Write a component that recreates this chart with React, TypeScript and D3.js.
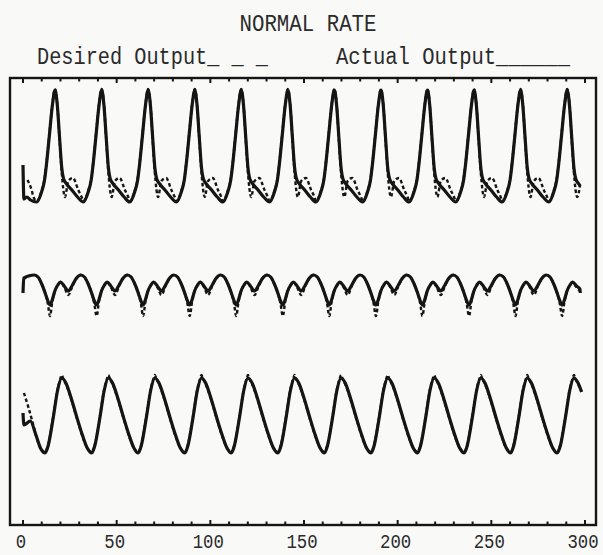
import React from "react";
import * as d3 from "d3";

const W = 603;
const H = 555;

const titleText = "NORMAL RATE";
const desiredLabel = "Desired Output_ _ _";
const actualLabel = "Actual Output______";
const xTicksMajor = [0, 50, 100, 150, 200, 250, 300];
const xTicksMinor = d3.range(0, 301, 10);

// Top trace (arbitrary units)
const topActual: [number, number][] = [
  [0,360],[0.5,326],[2,328],[4,325],
  [7.3,323],[9.9,333],[11.5,345],[12.5,360],[14.1,390],[15.7,420],[17.1,435],[18.3,420],[19.5,388],[20.7,357],[21.7,346],[23.3,341],[26.1,335],[29.1,328],
  [32.2,323],[34.8,333],[36.4,345],[37.4,360],[39.0,390],[40.6,420],[42.0,435],[43.2,420],[44.4,388],[45.6,357],[46.6,346],[48.2,341],[51.0,335],[54.0,328],
  [57.0,323],[59.6,333],[61.2,345],[62.2,360],[63.8,390],[65.4,420],[66.8,435],[68.0,420],[69.2,388],[70.4,357],[71.4,346],[73.0,341],[75.8,335],[78.8,328],
  [81.9,323],[84.5,333],[86.1,345],[87.1,360],[88.7,390],[90.3,420],[91.7,435],[92.9,420],[94.1,388],[95.3,357],[96.3,346],[97.9,341],[100.7,335],[103.7,328],
  [106.7,323],[109.3,333],[110.9,345],[111.9,360],[113.5,390],[115.1,420],[116.5,435],[117.7,420],[118.9,388],[120.1,357],[121.1,346],[122.7,341],[125.5,335],[128.5,328],
  [131.6,323],[134.2,333],[135.8,345],[136.8,360],[138.4,390],[140.0,420],[141.4,435],[142.6,420],[143.8,388],[145.0,357],[146.0,346],[147.6,341],[150.4,335],[153.4,328],
  [156.4,323],[159.0,333],[160.6,345],[161.6,360],[163.2,390],[164.8,420],[166.2,435],[167.4,420],[168.6,388],[169.8,357],[170.8,346],[172.4,341],[175.2,335],[178.2,328],
  [181.3,323],[183.9,333],[185.5,345],[186.5,360],[188.1,390],[189.7,420],[191.1,435],[192.3,420],[193.5,388],[194.7,357],[195.7,346],[197.3,341],[200.1,335],[203.1,328],
  [206.1,323],[208.7,333],[210.3,345],[211.3,360],[212.9,390],[214.5,420],[215.9,435],[217.1,420],[218.3,388],[219.5,357],[220.5,346],[222.1,341],[224.9,335],[227.9,328],
  [231.0,323],[233.6,333],[235.2,345],[236.2,360],[237.8,390],[239.4,420],[240.8,435],[242.0,420],[243.2,388],[244.4,357],[245.4,346],[247.0,341],[249.8,335],[252.8,328],
  [255.8,323],[258.4,333],[260.0,345],[261.0,360],[262.6,390],[264.2,420],[265.6,435],[266.8,420],[268.0,388],[269.2,357],[270.2,346],[271.8,341],[274.6,335],[277.6,328],
  [280.7,323],[283.3,333],[284.9,345],[285.9,360],[287.5,390],[289.1,420],[290.5,435],[291.7,420],[292.9,388],[294.1,357],[295.1,346],[296.7,341],[297.4,339],
];

const topDesired: [number, number][] = [
  [2.4,345],[4.6,335],[5.6,328],
  [7.3,324],[9.9,334],[11.5,346],[12.5,361],[14.1,391],[15.7,421],[17.1,436],[18.3,421],[19.5,386],[20.7,352],[21.5,336],[22.4,328],[24.2,344],[26.7,347],[29.5,335],[31.3,328],
  [32.2,324],[34.8,334],[36.4,346],[37.4,361],[39.0,391],[40.6,421],[42.0,436],[43.2,421],[44.4,386],[45.6,352],[46.4,336],[47.3,328],[49.1,344],[51.6,347],[54.4,335],[56.2,328],
  [57.0,324],[59.6,334],[61.2,346],[62.2,361],[63.8,391],[65.4,421],[66.8,436],[68.0,421],[69.2,386],[70.4,352],[71.2,336],[72.1,328],[73.9,344],[76.4,347],[79.2,335],[81.0,328],
  [81.9,324],[84.5,334],[86.1,346],[87.1,361],[88.7,391],[90.3,421],[91.7,436],[92.9,421],[94.1,386],[95.3,352],[96.1,336],[97.0,328],[98.8,344],[101.3,347],[104.1,335],[105.9,328],
  [106.7,324],[109.3,334],[110.9,346],[111.9,361],[113.5,391],[115.1,421],[116.5,436],[117.7,421],[118.9,386],[120.1,352],[120.9,336],[121.8,328],[123.6,344],[126.1,347],[128.9,335],[130.7,328],
  [131.6,324],[134.2,334],[135.8,346],[136.8,361],[138.4,391],[140.0,421],[141.4,436],[142.6,421],[143.8,386],[145.0,352],[145.8,336],[146.7,328],[148.5,344],[151.0,347],[153.8,335],[155.6,328],
  [156.4,324],[159.0,334],[160.6,346],[161.6,361],[163.2,391],[164.8,421],[166.2,436],[167.4,421],[168.6,386],[169.8,352],[170.6,336],[171.5,328],[173.3,344],[175.8,347],[178.6,335],[180.4,328],
  [181.3,324],[183.9,334],[185.5,346],[186.5,361],[188.1,391],[189.7,421],[191.1,436],[192.3,421],[193.5,386],[194.7,352],[195.5,336],[196.4,328],[198.2,344],[200.7,347],[203.5,335],[205.3,328],
  [206.1,324],[208.7,334],[210.3,346],[211.3,361],[212.9,391],[214.5,421],[215.9,436],[217.1,421],[218.3,386],[219.5,352],[220.3,336],[221.2,328],[223.0,344],[225.5,347],[228.3,335],[230.1,328],
  [231.0,324],[233.6,334],[235.2,346],[236.2,361],[237.8,391],[239.4,421],[240.8,436],[242.0,421],[243.2,386],[244.4,352],[245.2,336],[246.1,328],[247.9,344],[250.4,347],[253.2,335],[255.0,328],
  [255.8,324],[258.4,334],[260.0,346],[261.0,361],[262.6,391],[264.2,421],[265.6,436],[266.8,421],[268.0,386],[269.2,352],[270.0,336],[270.9,328],[272.7,344],[275.2,347],[278.0,335],[279.8,328],
  [280.7,324],[283.3,334],[284.9,346],[285.9,361],[287.5,391],[289.1,421],[290.5,436],[291.7,421],[292.9,386],[294.1,352],[294.9,336],[295.8,328],[297.4,340],
];

// Middle trace
const midActual: [number, number][] = [
  [0,232],[0.4,247],[3.0,249],[6.0,250],[8.0,248],[10.0,241],[12.0,231],[13.3,224],
  [14.4,220],[15.6,225],[17.0,234],[18.6,240],[20.0,243],[22.0,239],[24.2,234],[26.4,240],[28.4,246.5],[30.8,250],[32.8,248],[34.8,241],[36.8,231],[38.1,224],
  [39.3,220],[40.5,225],[41.9,234],[43.5,240],[44.9,243],[46.9,239],[49.1,234],[51.3,240],[53.3,246.5],[55.7,250],[57.7,248],[59.7,241],[61.7,231],[63.0,224],
  [64.1,220],[65.3,225],[66.7,234],[68.3,240],[69.7,243],[71.7,239],[73.9,234],[76.1,240],[78.1,246.5],[80.5,250],[82.5,248],[84.5,241],[86.5,231],[87.8,224],
  [89.0,220],[90.2,225],[91.6,234],[93.2,240],[94.6,243],[96.6,239],[98.8,234],[101.0,240],[103.0,246.5],[105.4,250],[107.4,248],[109.4,241],[111.4,231],[112.7,224],
  [113.8,220],[115.0,225],[116.4,234],[118.0,240],[119.4,243],[121.4,239],[123.6,234],[125.8,240],[127.8,246.5],[130.2,250],[132.2,248],[134.2,241],[136.2,231],[137.5,224],
  [138.7,220],[139.9,225],[141.3,234],[142.9,240],[144.3,243],[146.3,239],[148.5,234],[150.7,240],[152.7,246.5],[155.1,250],[157.1,248],[159.1,241],[161.1,231],[162.4,224],
  [163.5,220],[164.7,225],[166.1,234],[167.7,240],[169.1,243],[171.1,239],[173.3,234],[175.5,240],[177.5,246.5],[179.9,250],[181.9,248],[183.9,241],[185.9,231],[187.2,224],
  [188.4,220],[189.6,225],[191.0,234],[192.6,240],[194.0,243],[196.0,239],[198.2,234],[200.4,240],[202.4,246.5],[204.8,250],[206.8,248],[208.8,241],[210.8,231],[212.1,224],
  [213.2,220],[214.4,225],[215.8,234],[217.4,240],[218.8,243],[220.8,239],[223.0,234],[225.2,240],[227.2,246.5],[229.6,250],[231.6,248],[233.6,241],[235.6,231],[236.9,224],
  [238.1,220],[239.3,225],[240.7,234],[242.3,240],[243.7,243],[245.7,239],[247.9,234],[250.1,240],[252.1,246.5],[254.5,250],[256.5,248],[258.5,241],[260.5,231],[261.8,224],
  [262.9,220],[264.1,225],[265.5,234],[267.1,240],[268.5,243],[270.5,239],[272.7,234],[274.9,240],[276.9,246.5],[279.3,250],[281.3,248],[283.3,241],[285.3,231],[286.6,224],
  [287.8,220],[289.0,225],[290.4,234],[292.0,240],[293.4,243],[295.4,239],[297.3,236],[297.5,232],
];

const midDesired: [number, number][] = [
  [0.4,246],[3.0,249],[6.0,250],[8.0,248],[10.0,241],[12.0,231],[13.2,222],
  [14.4,209],[15.7,224],[17.0,234],[18.6,240],[20.0,243],[22.0,238],[24.2,230],[26.4,239],[28.4,246.5],[30.8,250],[32.8,248],[34.8,241],[36.8,231],[38.0,222],
  [39.3,209],[40.6,224],[41.9,234],[43.5,240],[44.9,243],[46.9,238],[49.1,230],[51.3,239],[53.3,246.5],[55.7,250],[57.7,248],[59.7,241],[61.7,231],[62.9,222],
  [64.1,209],[65.4,224],[66.7,234],[68.3,240],[69.7,243],[71.7,238],[73.9,230],[76.1,239],[78.1,246.5],[80.5,250],[82.5,248],[84.5,241],[86.5,231],[87.7,222],
  [89.0,209],[90.3,224],[91.6,234],[93.2,240],[94.6,243],[96.6,238],[98.8,230],[101.0,239],[103.0,246.5],[105.4,250],[107.4,248],[109.4,241],[111.4,231],[112.6,222],
  [113.8,209],[115.1,224],[116.4,234],[118.0,240],[119.4,243],[121.4,238],[123.6,230],[125.8,239],[127.8,246.5],[130.2,250],[132.2,248],[134.2,241],[136.2,231],[137.4,222],
  [138.7,209],[140.0,224],[141.3,234],[142.9,240],[144.3,243],[146.3,238],[148.5,230],[150.7,239],[152.7,246.5],[155.1,250],[157.1,248],[159.1,241],[161.1,231],[162.3,222],
  [163.5,209],[164.8,224],[166.1,234],[167.7,240],[169.1,243],[171.1,238],[173.3,230],[175.5,239],[177.5,246.5],[179.9,250],[181.9,248],[183.9,241],[185.9,231],[187.1,222],
  [188.4,209],[189.7,224],[191.0,234],[192.6,240],[194.0,243],[196.0,238],[198.2,230],[200.4,239],[202.4,246.5],[204.8,250],[206.8,248],[208.8,241],[210.8,231],[212.0,222],
  [213.2,209],[214.5,224],[215.8,234],[217.4,240],[218.8,243],[220.8,238],[223.0,230],[225.2,239],[227.2,246.5],[229.6,250],[231.6,248],[233.6,241],[235.6,231],[236.8,222],
  [238.1,209],[239.4,224],[240.7,234],[242.3,240],[243.7,243],[245.7,238],[247.9,230],[250.1,239],[252.1,246.5],[254.5,250],[256.5,248],[258.5,241],[260.5,231],[261.7,222],
  [262.9,209],[264.2,224],[265.5,234],[267.1,240],[268.5,243],[270.5,238],[272.7,230],[274.9,239],[276.9,246.5],[279.3,250],[281.3,248],[283.3,241],[285.3,231],[286.5,222],
  [287.8,209],[289.1,224],[290.4,234],[292.0,240],[293.4,243],[295.4,238],[297.3,234],
];

// Bottom trace
const lowActual: [number, number][] = [
  [0,112],[0.5,100],[3.9,104],[6.9,90],[9.3,77],
  [11.8,72],[13.4,79],[16.2,108],[18.5,135],[20.7,147],[22.9,142],[25.7,127],[28.7,108],[31.7,90],[34.3,77],
  [36.7,72],[38.3,79],[41.1,108],[43.4,135],[45.6,147],[47.8,142],[50.6,127],[53.6,108],[56.6,90],[59.2,77],
  [61.5,72],[63.1,79],[65.9,108],[68.2,135],[70.4,147],[72.6,142],[75.4,127],[78.4,108],[81.4,90],[84.0,77],
  [86.4,72],[88.0,79],[90.8,108],[93.1,135],[95.3,147],[97.5,142],[100.3,127],[103.3,108],[106.3,90],[108.9,77],
  [111.2,72],[112.8,79],[115.6,108],[117.9,135],[120.1,147],[122.3,142],[125.1,127],[128.1,108],[131.1,90],[133.7,77],
  [136.1,72],[137.7,79],[140.5,108],[142.8,135],[145.0,147],[147.2,142],[150.0,127],[153.0,108],[156.0,90],[158.6,77],
  [160.9,72],[162.5,79],[165.3,108],[167.6,135],[169.8,147],[172.0,142],[174.8,127],[177.8,108],[180.8,90],[183.4,77],
  [185.8,72],[187.4,79],[190.2,108],[192.5,135],[194.7,147],[196.9,142],[199.7,127],[202.7,108],[205.7,90],[208.3,77],
  [210.6,72],[212.2,79],[215.0,108],[217.3,135],[219.5,147],[221.7,142],[224.5,127],[227.5,108],[230.5,90],[233.1,77],
  [235.5,72],[237.1,79],[239.9,108],[242.2,135],[244.4,147],[246.6,142],[249.4,127],[252.4,108],[255.4,90],[258.0,77],
  [260.3,72],[261.9,79],[264.7,108],[267.0,135],[269.2,147],[271.4,142],[274.2,127],[277.2,108],[280.2,90],[282.8,77],
  [285.2,72],[286.8,79],[289.6,108],[291.9,135],[294.1,147],[296.3,142],[298.2,133],
];

const lowDesired: [number, number][] = [
  [0.5,132],[3.0,117],[5.5,100],[6.9,90],[9.3,77],
  [11.8,73],[13.4,80],[16.2,109],[18.5,136],[19.9,146],[20.7,150],[21.5,146],[22.9,141],[25.7,126],[28.7,107],[31.7,89],[34.3,77],
  [36.7,73],[38.3,80],[41.1,109],[43.4,136],[44.8,146],[45.6,150],[46.4,146],[47.8,141],[50.6,126],[53.6,107],[56.6,89],[59.2,77],
  [61.5,73],[63.1,80],[65.9,109],[68.2,136],[69.6,146],[70.4,150],[71.2,146],[72.6,141],[75.4,126],[78.4,107],[81.4,89],[84.0,77],
  [86.4,73],[88.0,80],[90.8,109],[93.1,136],[94.5,146],[95.3,150],[96.1,146],[97.5,141],[100.3,126],[103.3,107],[106.3,89],[108.9,77],
  [111.2,73],[112.8,80],[115.6,109],[117.9,136],[119.3,146],[120.1,150],[120.9,146],[122.3,141],[125.1,126],[128.1,107],[131.1,89],[133.7,77],
  [136.1,73],[137.7,80],[140.5,109],[142.8,136],[144.2,146],[145.0,150],[145.8,146],[147.2,141],[150.0,126],[153.0,107],[156.0,89],[158.6,77],
  [160.9,73],[162.5,80],[165.3,109],[167.6,136],[169.0,146],[169.8,150],[170.6,146],[172.0,141],[174.8,126],[177.8,107],[180.8,89],[183.4,77],
  [185.8,73],[187.4,80],[190.2,109],[192.5,136],[193.9,146],[194.7,150],[195.5,146],[196.9,141],[199.7,126],[202.7,107],[205.7,89],[208.3,77],
  [210.6,73],[212.2,80],[215.0,109],[217.3,136],[218.7,146],[219.5,150],[220.3,146],[221.7,141],[224.5,126],[227.5,107],[230.5,89],[233.1,77],
  [235.5,73],[237.1,80],[239.9,109],[242.2,136],[243.6,146],[244.4,150],[245.2,146],[246.6,141],[249.4,126],[252.4,107],[255.4,89],[258.0,77],
  [260.3,73],[261.9,80],[264.7,109],[267.0,136],[268.4,146],[269.2,150],[270.0,146],[271.4,141],[274.2,126],[277.2,107],[280.2,89],[282.8,77],
  [285.2,73],[286.8,80],[289.6,109],[291.9,136],[293.3,146],[294.1,150],[294.9,146],[296.3,141],[298.0,134],
];

const FRAME = { left: 10, right: 596, top: 78, bottom: 525 };

export default function App() {
  const x = d3.scaleLinear().domain([0, 300]).range([23, 585]);
  const y = d3.scaleLinear().domain([0, 447]).range([FRAME.bottom, FRAME.top]);
  const line = d3
    .line<[number, number]>()
    .x((d) => x(d[0]))
    .y((d) => y(d[1]))
    .curve(d3.curveMonotoneX);

  const ink = "#151515";
  const textInk = "#2a2a2a";
  const font = "'Liberation Mono', 'DejaVu Sans Mono', monospace";

  const desiredSeries = [topDesired, midDesired, lowDesired];
  const actualSeries = [topActual, midActual, lowActual];

  return (
    <svg
      width={W}
      height={H}
      style={{ position: "absolute", left: 0, top: 0, display: "block" }}
    >
      <rect x={0} y={0} width={W} height={H} fill="#f9f9f8" />
      <text
        x={308}
        y={31}
        fontFamily={font}
        fontSize={23}
        textAnchor="middle"
        fill={textInk}
        textLength={137}
        lengthAdjust="spacingAndGlyphs"
      >
        {titleText}
      </text>
      <text
        x={37}
        y={64}
        fontFamily={font}
        fontSize={23}
        fill={textInk}
        textLength={231}
        lengthAdjust="spacingAndGlyphs"
      >
        {desiredLabel}
      </text>
      <text
        x={336}
        y={64}
        fontFamily={font}
        fontSize={23}
        fill={textInk}
        textLength={234}
        lengthAdjust="spacingAndGlyphs"
      >
        {actualLabel}
      </text>

      {/* frame */}
      <rect
        x={FRAME.left}
        y={FRAME.top}
        width={FRAME.right - FRAME.left}
        height={FRAME.bottom - FRAME.top}
        fill="none"
        stroke={ink}
        strokeWidth={2.4}
      />
      {/* ticks */}
      {xTicksMinor.map((t) => {
        const major = t % 50 === 0;
        const len = major ? 5 : 3.5;
        return (
          <g key={t}>
            <line x1={x(t)} x2={x(t)} y1={FRAME.bottom} y2={FRAME.bottom - len} stroke={ink} strokeWidth={2} />
            <line x1={x(t)} x2={x(t)} y1={FRAME.top} y2={FRAME.top + len} stroke={ink} strokeWidth={2} />
          </g>
        );
      })}
      {xTicksMajor.map((t) => (
        <text
          key={t}
          x={x(t) - 2}
          y={548}
          fontFamily={font}
          fontSize={20}
          textAnchor="middle"
          fill={textInk}
          textLength={String(t).length * 10.4}
          lengthAdjust="spacingAndGlyphs"
        >
          {t}
        </text>
      ))}

      {/* desired (dashed) */}
      {desiredSeries.map((s, i) => (
        <path
          key={"d" + i}
          d={line(s) || ""}
          fill="none"
          stroke={ink}
          strokeWidth={2.4}
          strokeDasharray="3.5,2.5"
        />
      ))}
      {/* actual (solid) */}
      {actualSeries.map((s, i) => (
        <path
          key={"a" + i}
          d={line(s) || ""}
          fill="none"
          stroke={ink}
          strokeWidth={3.2}
          strokeLinejoin="round"
        />
      ))}
    </svg>
  );
}
